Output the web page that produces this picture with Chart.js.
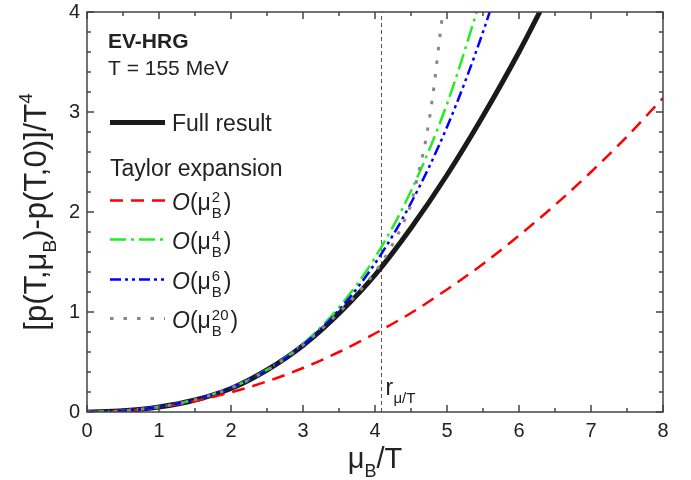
<!DOCTYPE html>
<html>
<head>
<meta charset="utf-8">
<script src="https://cdn.jsdelivr.net/npm/chart.js@4"></script>
<style>
body { margin: 0; background: #fff; }
#wrap { width: 691px; height: 480px; }
</style>
</head>
<body>
<div id="wrap"><canvas id="myChart" width="691" height="480"></canvas></div>
<script>
// values
const fullX = [0, 0.5, 1, 1.5, 2, 2.5, 3, 3.5, 4, 4.5, 5, 5.5, 6, 6.5];
const fullY = [0, 0.012, 0.05, 0.12, 0.235, 0.42, 0.665, 0.985, 1.37, 1.84, 2.37, 2.96, 3.6, 4.3];

const o2X = [0, 0.5, 1, 1.5, 2, 2.5, 3, 3.5, 4, 4.5, 5, 5.5, 6, 6.5, 7, 7.5, 8];
const o2Y = [0, 0.012, 0.049, 0.11, 0.196, 0.306, 0.44, 0.6, 0.785, 0.99, 1.225, 1.48, 1.765, 2.07, 2.4, 2.755, 3.14];

const o4X = [0, 0.5, 1, 1.5, 2, 2.5, 3, 3.5, 4, 4.5, 5, 5.5];
const o4Y = [0, 0.012, 0.052, 0.125, 0.244, 0.422, 0.682, 1.046, 1.544, 2.21, 3.08, 4.2];

const o6X = [0, 0.5, 1, 1.5, 2, 2.5, 3, 3.5, 4, 4.5, 5, 5.5, 6];
const o6Y = [0, 0.012, 0.052, 0.125, 0.243, 0.418, 0.671, 1.019, 1.485, 2.09, 2.85, 3.8, 4.94];

const o20X = [0, 0.5, 1, 1.5, 2, 2.5, 3, 3.5, 3.8, 4, 4.2, 4.4, 4.5, 4.6, 4.7, 4.8, 4.9, 5];
const o20Y = [0, 0.012, 0.051, 0.122, 0.24, 0.418, 0.67, 0.995, 1.22, 1.4, 1.62, 1.9, 2.08, 2.38, 2.7, 3.15, 3.75, 4.35];

const rMuT = 4.09;
const xTicks = [0, 1, 2, 3, 4, 5, 6, 7, 8];
const yTicks = [0, 1, 2, 3, 4];

const FF = '"Liberation Sans", Arial, sans-serif';

function pts(xs, ys) {
    return xs.map((x, i) => ({ x: x, y: ys[i] }));
}

// draws pieces of text one after the other, returns end x
function drawRich(ctx, x, y, parts) {
    for (let p of parts) {
        ctx.font = p.f;
        ctx.fillText(p.t, x, y + (p.dy || 0));
        x += ctx.measureText(p.t).width;
    }
    return x;
}

function richWidth(ctx, parts) {
    let w = 0;
    for (let p of parts) {
        ctx.font = p.f;
        w += ctx.measureText(p.t).width;
    }
    return w;
}

function drawOrder(ctx, x, y, n) {
    x = drawRich(ctx, x, y, [
        { t: 'O', f: 'italic 23px ' + FF },
        { t: '(μ', f: '23px ' + FF }
    ]);
    ctx.font = '15px ' + FF;
    ctx.fillText(n, x + 1, y - 8);
    ctx.fillText('B', x + 1, y + 8);
    let w = Math.max(ctx.measureText(n).width, ctx.measureText('B').width);
    ctx.font = '23px ' + FF;
    ctx.fillText(')', x + w + 3, y);
}

function sample(ctx, y, color, width, dash, cap) {
    ctx.save();
    ctx.strokeStyle = color;
    ctx.lineWidth = width;
    ctx.setLineDash(dash);
    ctx.lineCap = cap || 'butt';
    ctx.beginPath();
    ctx.moveTo(110, y);
    ctx.lineTo(165, y);
    ctx.stroke();
    ctx.restore();
}

const decor = {
    id: 'decor',
    afterDraw(chart) {
        const ctx = chart.ctx;
        const xs = chart.scales.x, ys = chart.scales.y, a = chart.chartArea;
        ctx.save();

        // frame and inward ticks
        ctx.strokeStyle = '#444';
        ctx.lineWidth = 1.5;
        ctx.strokeRect(a.left, a.top, a.right - a.left, a.bottom - a.top);
        ctx.beginPath();
        for (let i = 0; i <= 16; i++) {
            let px = xs.getPixelForValue(i / 2);
            let len = i % 2 == 0 ? 7 : 4;
            ctx.moveTo(px, a.bottom); ctx.lineTo(px, a.bottom - len);
            ctx.moveTo(px, a.top); ctx.lineTo(px, a.top + len);
        }
        for (let i = 0; i <= 20; i++) {
            let py = ys.getPixelForValue(i / 5);
            let len = i % 5 == 0 ? 7 : 4;
            ctx.moveTo(a.left, py); ctx.lineTo(a.left + len, py);
            ctx.moveTo(a.right, py); ctx.lineTo(a.right - len, py);
        }
        ctx.stroke();

        ctx.fillStyle = '#222';
        ctx.textBaseline = 'alphabetic';
        ctx.textAlign = 'left';

        // text block
        ctx.font = 'bold 21px ' + FF;
        ctx.fillText('EV-HRG', 108, 48);
        ctx.font = '21px ' + FF;
        ctx.fillText('T = 155 MeV', 108, 75);

        sample(ctx, 122.5, '#1a1a1a', 5, []);
        ctx.font = '23px ' + FF;
        ctx.fillText('Full result', 172, 131);
        ctx.fillText('Taylor expansion', 110, 176);

        sample(ctx, 200.5, '#ff0000', 2.5, [13, 8]);
        drawOrder(ctx, 172, 210, '2');
        sample(ctx, 239.5, '#22ee22', 2.5, [16, 5, 3, 5]);
        drawOrder(ctx, 172, 249, '4');
        sample(ctx, 279.5, '#0000ff', 2.5, [11, 4, 3, 4, 3, 4]);
        drawOrder(ctx, 172, 289, '6');
        sample(ctx, 318.5, '#888888', 3, [3.5, 10]);
        drawOrder(ctx, 172, 328, '20');

        // r_mu/T label
        let rx = xs.getPixelForValue(rMuT);
        ctx.font = '23px ' + FF;
        ctx.fillText('r', rx + 4, 395);
        ctx.font = '15px ' + FF;
        ctx.fillText('μ/T', rx + 12, 403);

        // x axis title
        let xparts = [
            { t: 'μ', f: '29px ' + FF },
            { t: 'B', f: '18px ' + FF, dy: 9 },
            { t: '/T', f: '29px ' + FF }
        ];
        let w = richWidth(ctx, xparts);
        drawRich(ctx, (a.left + a.right) / 2 - w / 2, 468, xparts);

        // y axis title
        let yparts = [
            { t: '[p(T,μ', f: '31px ' + FF },
            { t: 'B', f: '19px ' + FF, dy: 10 },
            { t: ')-p(T,0)]/T', f: '31px ' + FF },
            { t: '4', f: '19px ' + FF, dy: -14 }
        ];
        w = richWidth(ctx, yparts);
        ctx.translate(46, (a.top + a.bottom) / 2);
        ctx.rotate(-Math.PI / 2);
        drawRich(ctx, -w / 2, 0, yparts);

        ctx.restore();
    }
};

const ctx = document.getElementById('myChart');
const myChart = new Chart(ctx, {
    type: 'line',
    data: {
        datasets: [{
            data: pts(fullX, fullY),
            borderColor: '#1a1a1a',
            borderWidth: 5,
            order: 5
        }, {
            data: pts(o2X, o2Y),
            borderColor: '#ff0000',
            borderWidth: 2.5,
            borderDash: [13, 8],
            order: 4
        }, {
            data: pts(o4X, o4Y),
            borderColor: '#22ee22',
            borderWidth: 2.5,
            borderDash: [16, 5, 3, 5],
            order: 3
        }, {
            data: pts(o6X, o6Y),
            borderColor: '#0000ff',
            borderWidth: 2.5,
            borderDash: [11, 4, 3, 4, 3, 4],
            order: 2
        }, {
            data: pts(o20X, o20Y),
            borderColor: '#888888',
            borderWidth: 3,
            borderDash: [3.5, 10],
            order: 1
        }, {
            data: [{ x: rMuT, y: 0 }, { x: rMuT, y: 4 }],
            borderColor: '#555555',
            borderWidth: 1,
            borderDash: [4, 3],
            tension: 0,
            cubicInterpolationMode: 'default',
            order: 6
        }]
    },
    options: {
        responsive: false,
        animation: false,
        devicePixelRatio: 1,
        layout: { padding: { left: 0, right: 28, top: 12, bottom: 0 } },
        elements: {
            point: { radius: 0 },
            line: { cubicInterpolationMode: 'monotone', fill: false }
        },
        plugins: {
            legend: { display: false },
            tooltip: { enabled: false }
        },
        scales: {
            x: {
                type: 'linear',
                min: 0,
                max: 8,
                afterBuildTicks: s => { s.ticks = xTicks.map(v => ({ value: v })); },
                ticks: { font: { family: FF, size: 20 }, color: '#222', padding: 7, maxRotation: 0 },
                grid: { display: false, drawTicks: false },
                border: { display: false },
                afterFit: s => { s.height = 68; s.paddingLeft = 0; s.paddingRight = 0; }
            },
            y: {
                type: 'linear',
                min: 0,
                max: 4,
                afterBuildTicks: s => { s.ticks = yTicks.map(v => ({ value: v })); },
                ticks: { font: { family: FF, size: 20 }, color: '#222', padding: 7 },
                grid: { display: false, drawTicks: false },
                border: { display: false },
                afterFit: s => { s.width = 87; s.paddingTop = 0; s.paddingBottom = 0; }
            }
        }
    },
    plugins: [decor]
});
</script>
</body>
</html>
